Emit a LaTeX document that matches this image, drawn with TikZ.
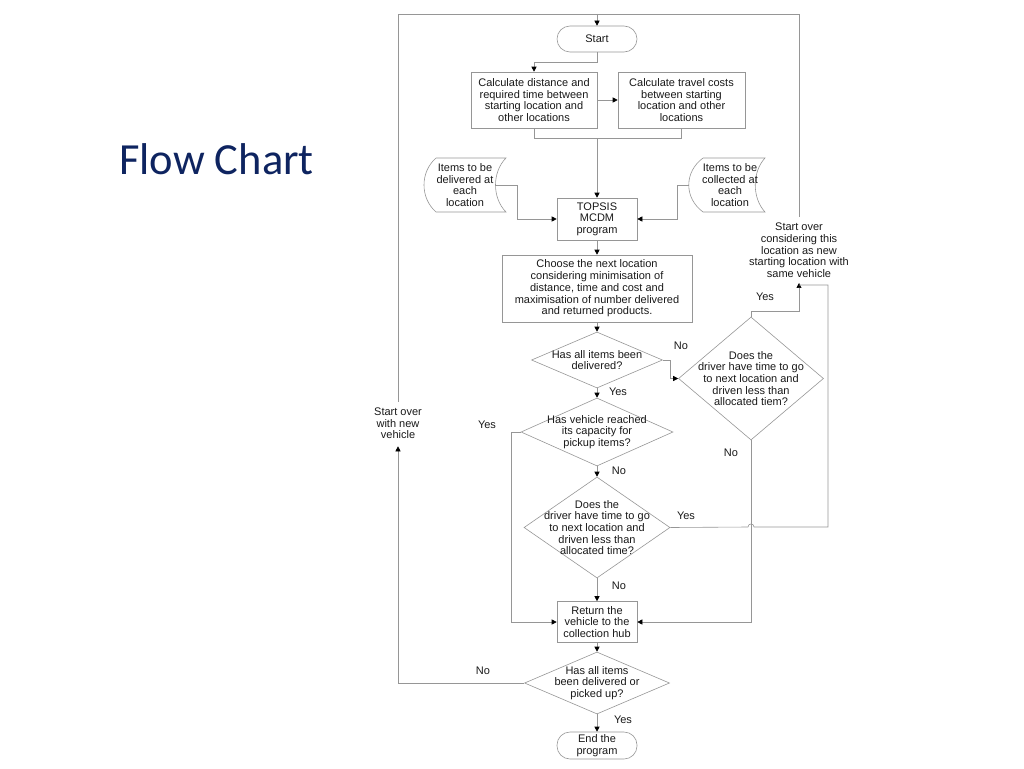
\documentclass[tikz,border=0pt]{standalone}
\usepackage{fontspec}
\setmainfont{Liberation Sans}
\newfontfamily\titlefont{Carlito}
\usetikzlibrary{arrows.meta,shapes.geometric,calc}
\definecolor{linegray}{RGB}{150,150,150}
\definecolor{titleblue}{RGB}{14,36,96}
\definecolor{txtcol}{RGB}{25,25,25}
\tikzset{
  txt/.style={font=\fontsize{11}{11.7}\selectfont, align=center, text=txtcol, inner sep=0pt},
  lbl/.style={font=\fontsize{11}{11.7}\selectfont, text=txtcol, inner sep=0pt},
  boxnode/.style={draw=linegray, line width=0.6pt, rectangle, inner sep=0pt, txt},
  termnode/.style={draw=linegray, line width=0.6pt, rectangle, rounded corners=13pt, inner sep=0pt, txt},
  dia/.style={draw=linegray, line width=0.6pt, shape=diamond, inner sep=0pt},
  conn/.style={draw=linegray, line width=0.6pt},
  arr/.style={conn, -{Triangle[length=5pt,width=5pt,color=black]}},
}
\begin{document}
\begin{tikzpicture}[x=1pt,y=-1pt]
\useasboundingbox (0,0) rectangle (1024,768);

% title
\node[font=\titlefont\fontsize{44.5}{50}\selectfont, text=titleblue, anchor=base west, inner sep=0pt] (title) at (119,174) {Flow Chart};

% terminals and boxes
\node[termnode, minimum width=80pt, minimum height=26pt] (start) at (597,39) {Start};
\node[boxnode, minimum width=126pt, minimum height=56pt] (b1) at (534,100) {Calculate distance and\\required time between\\starting location and\\other locations};
\node[boxnode, minimum width=127pt, minimum height=56pt] (b2) at (681.5,100) {Calculate travel costs\\between starting\\location and other\\locations};
\node[boxnode, minimum width=80pt, minimum height=42pt] (topsis) at (597,219) {TOPSIS\\MCDM\\program};
\node[boxnode, minimum width=190pt, minimum height=67pt] (choose) at (597,288.5) {Choose the next location\\considering minimisation of\\distance, time and cost and\\maximisation of number delivered\\and returned products.};
\node[boxnode, minimum width=80pt, minimum height=41pt] (ret) at (597,622) {Return the\\vehicle to the\\collection hub};
\node[termnode, minimum width=80pt, minimum height=27pt] (end) at (597,745.5) {End the\\program};

% stored data shapes
\draw[conn] (436,158) -- (506,158) .. controls (492,172) and (492,198) .. (506,212) -- (436,212) .. controls (420,198) and (420,172) .. (436,158);
\node[txt] (doc1) at (465,185) {Items to be\\delivered at\\each\\location};
\coordinate (doc1e) at (495.5,185);
\draw[conn] (703,158) -- (765,158) .. controls (752,172) and (752,198) .. (765,212) -- (703,212) .. controls (684,198) and (684,172) .. (703,158);
\node[txt] (doc2) at (730,185) {Items to be\\collected at\\each\\location};
\coordinate (doc2w) at (689,185);

% diamonds
\node[dia, minimum width=131pt, minimum height=56pt] (d1) at (597,360) {};
\node[txt] at (d1) {Has all items been\\delivered?};
\node[dia, minimum width=145pt, minimum height=123pt] (d2) at (751,378.5) {};
\node[txt] at (d2) {Does the\\driver have time to go\\to next location and\\driven less than\\allocated tiem?};
\node[dia, minimum width=152pt, minimum height=68pt] (d3) at (597,432) {};
\node[txt] at (d3) {Has vehicle reached\\its capacity for\\pickup items?};
\node[dia, minimum width=146pt, minimum height=101pt] (d4) at (597,527.5) {};
\node[txt] at (d4) {Does the\\driver have time to go\\to next location and\\driven less than\\allocated time?};
\node[dia, minimum width=145pt, minimum height=62pt] (d5) at (597,683) {};
\node[txt] at (d5) {Has all items\\been delivered or\\picked up?};

% loop labels
\node[txt] (sov) at (398,423.5) {Start over\\with new\\vehicle};
\node[txt] (scl) at (799,250.5) {Start over\\considering this\\location as new\\starting location with\\same vehicle};

\coordinate (tl) at (398,14);
\coordinate (tr) at (799,14);

% connectors
\draw[conn] ($(sov.north)+(0,-6)$) -- (tl) -- (tr) -- ($(scl.north)+(0,-6)$);
\draw[arr] (start.north |- tl) -- (start.north);
\draw[arr] (start.south) -- (597,62) -| (b1.north);
\draw[arr] (b1.east) -- (b2.west);
\draw[conn] (b1.south) -- (534,138) -| (b2.south);
\draw[arr] (597,138) -- (topsis.north);
\draw[arr] (doc1e) -- (517,185) |- (topsis.west);
\draw[arr] (doc2w) -- (677,185) |- (topsis.east);
\draw[arr] (topsis.south) -- (choose.north);
\draw[arr] (choose.south) -- (d1.north);
\draw[arr] (d1.east) -- (670,360) |- (d2.west);
\draw[arr] (d1.south) -- (d3.north);
\draw[arr] (d2.north) -- (751,311) -| ($(scl.south)+(0,5)$);
\draw[arr] (d2.south) |- (ret.east);
\draw[arr] (d3.west) -- (511,432) |- (ret.west);
\draw[arr] (d3.south) -- (d4.north);
\draw[arr] (d4.south) -- (ret.north);
\draw[conn] (d4.east) -- (748,527) .. controls (748,523) and (754,523) .. (754,527) -- (828,527) -- (828,285) -- (799,285);
\draw[arr] (ret.south) -- (d5.north);
\draw[arr] (d5.south) -- (end.north);
\draw[arr] (d5.west) -- (398,683) -- ($(sov.south)+(0,7)$);

% branch labels
\node[lbl] (l1) at (681,346) {No};
\node[lbl] (l2) at (618,391.5) {Yes};
\node[lbl] (l3) at (765,296.5) {Yes};
\node[lbl] (l4) at (731,452.5) {No};
\node[lbl] (l5) at (487,424.5) {Yes};
\node[lbl] (l6) at (619,470.5) {No};
\node[lbl] (l7) at (686,515.5) {Yes};
\node[lbl] (l8) at (619,586) {No};
\node[lbl] (l9) at (483,670.5) {No};
\node[lbl] (l10) at (623,720) {Yes};
\end{tikzpicture}
\end{document}
